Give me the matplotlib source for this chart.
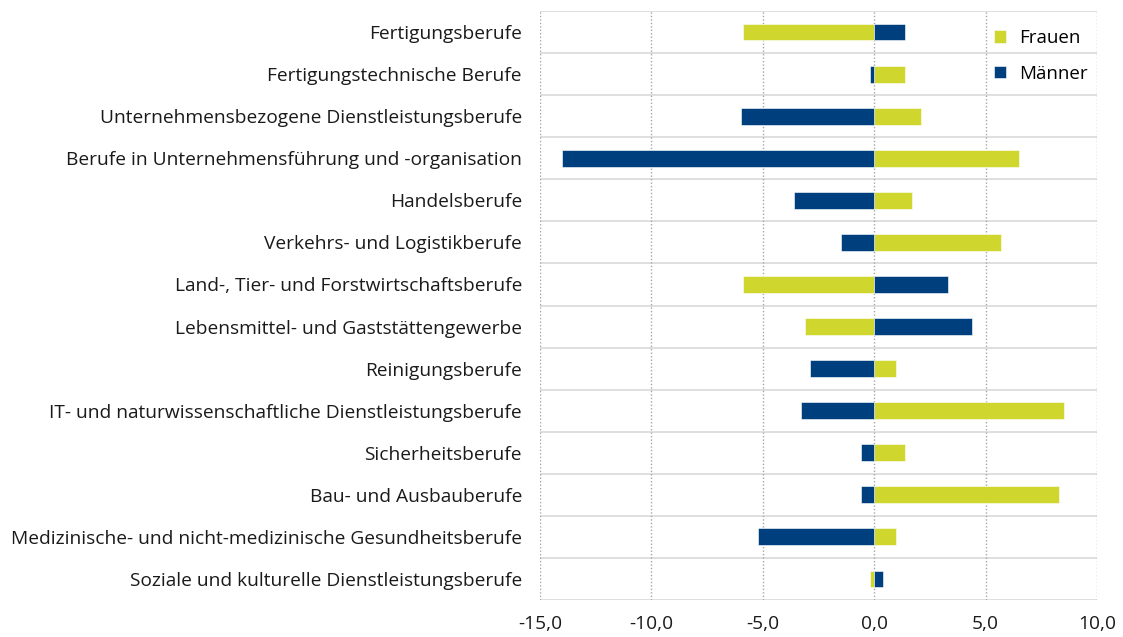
"""Veränderung nach Berufssegment, Frauen und Männer"""

import numpy as np
from matplotlib import pyplot as plt
from matplotlib.ticker import FuncFormatter

plt.rcParams['font.family'] = ['Open Sans', 'DejaVu Sans']

categories = [
    "Fertigungsberufe",
    "Fertigungstechnische Berufe",
    "Unternehmensbezogene Dienstleistungsberufe",
    "Berufe in Unternehmensführung und -organisation",
    "Handelsberufe",
    "Verkehrs- und Logistikberufe",
    "Land-, Tier- und Forstwirtschaftsberufe",
    "Lebensmittel- und Gaststättengewerbe",
    "Reinigungsberufe",
    "IT- und naturwissenschaftliche Dienstleistungsberufe",
    "Sicherheitsberufe",
    "Bau- und Ausbauberufe",
    "Medizinische- und nicht-medizinische Gesundheitsberufe",
    "Soziale und kulturelle Dienstleistungsberufe",
]
frauen = [-5.9, 1.4, 2.1, 6.5, 1.7, 5.7, -5.9, -3.1, 1.0, 8.5, 1.4, 8.3, 1.0, -0.2]
maenner = [1.4, -0.2, -6.0, -14.0, -3.6, -1.5, 3.3, 4.4, -2.9, -3.3, -0.6, -0.6, -5.2, 0.4]
x_ticks = [-15, -10, -5, 0, 5, 10]

col_f = "#cfd72e"
col_m = "#003f7d"

fig = plt.figure(figsize=(11.23, 6.37), dpi=100)
ax = fig.add_axes([540 / 1123, 1 - 600 / 637, 557 / 1123, 589 / 637])

y = np.arange(len(categories))
ax.barh(y, frauen, height=0.4, color=col_f, label="Frauen", zorder=3,
        edgecolor="white", linewidth=0.4)
ax.barh(y, maenner, height=0.4, color=col_m, label="Männer", zorder=3,
        edgecolor="white", linewidth=0.4)

ax.set_xlim(-15, 10)
ax.set_ylim(len(categories) - 0.5, -0.5)
ax.set_xticks(x_ticks)
ax.xaxis.set_major_formatter(FuncFormatter(lambda v, p: f"{v:.1f}".replace(".", ",")))
ax.set_yticks(y)
ax.set_yticklabels(categories)
ax.tick_params(axis="both", length=0, labelsize=13.8, colors="#1a1a1a")
ax.tick_params(axis="y", pad=13)
ax.tick_params(axis="x", pad=11)

# category separators
for b in np.arange(-0.5, len(categories), 1.0):
    ax.axhline(b, color="#dcdcdc", linewidth=1.3, zorder=1)
for xv in x_ticks:
    ax.axvline(xv, color="#a6a6a6", linewidth=1, linestyle=(0, (1, 1.5)), zorder=2)

for s in ax.spines.values():
    s.set_visible(False)

ax.legend(loc="upper left", bbox_to_anchor=(994 / 1123, 1 - 29 / 637),
          bbox_transform=fig.transFigure, frameon=False, fontsize=13.5,
          handlelength=0.65, handleheight=0.65, handletextpad=0.7,
          labelspacing=0.95, borderpad=0, borderaxespad=0)

fig.savefig("out.png", dpi=100)
